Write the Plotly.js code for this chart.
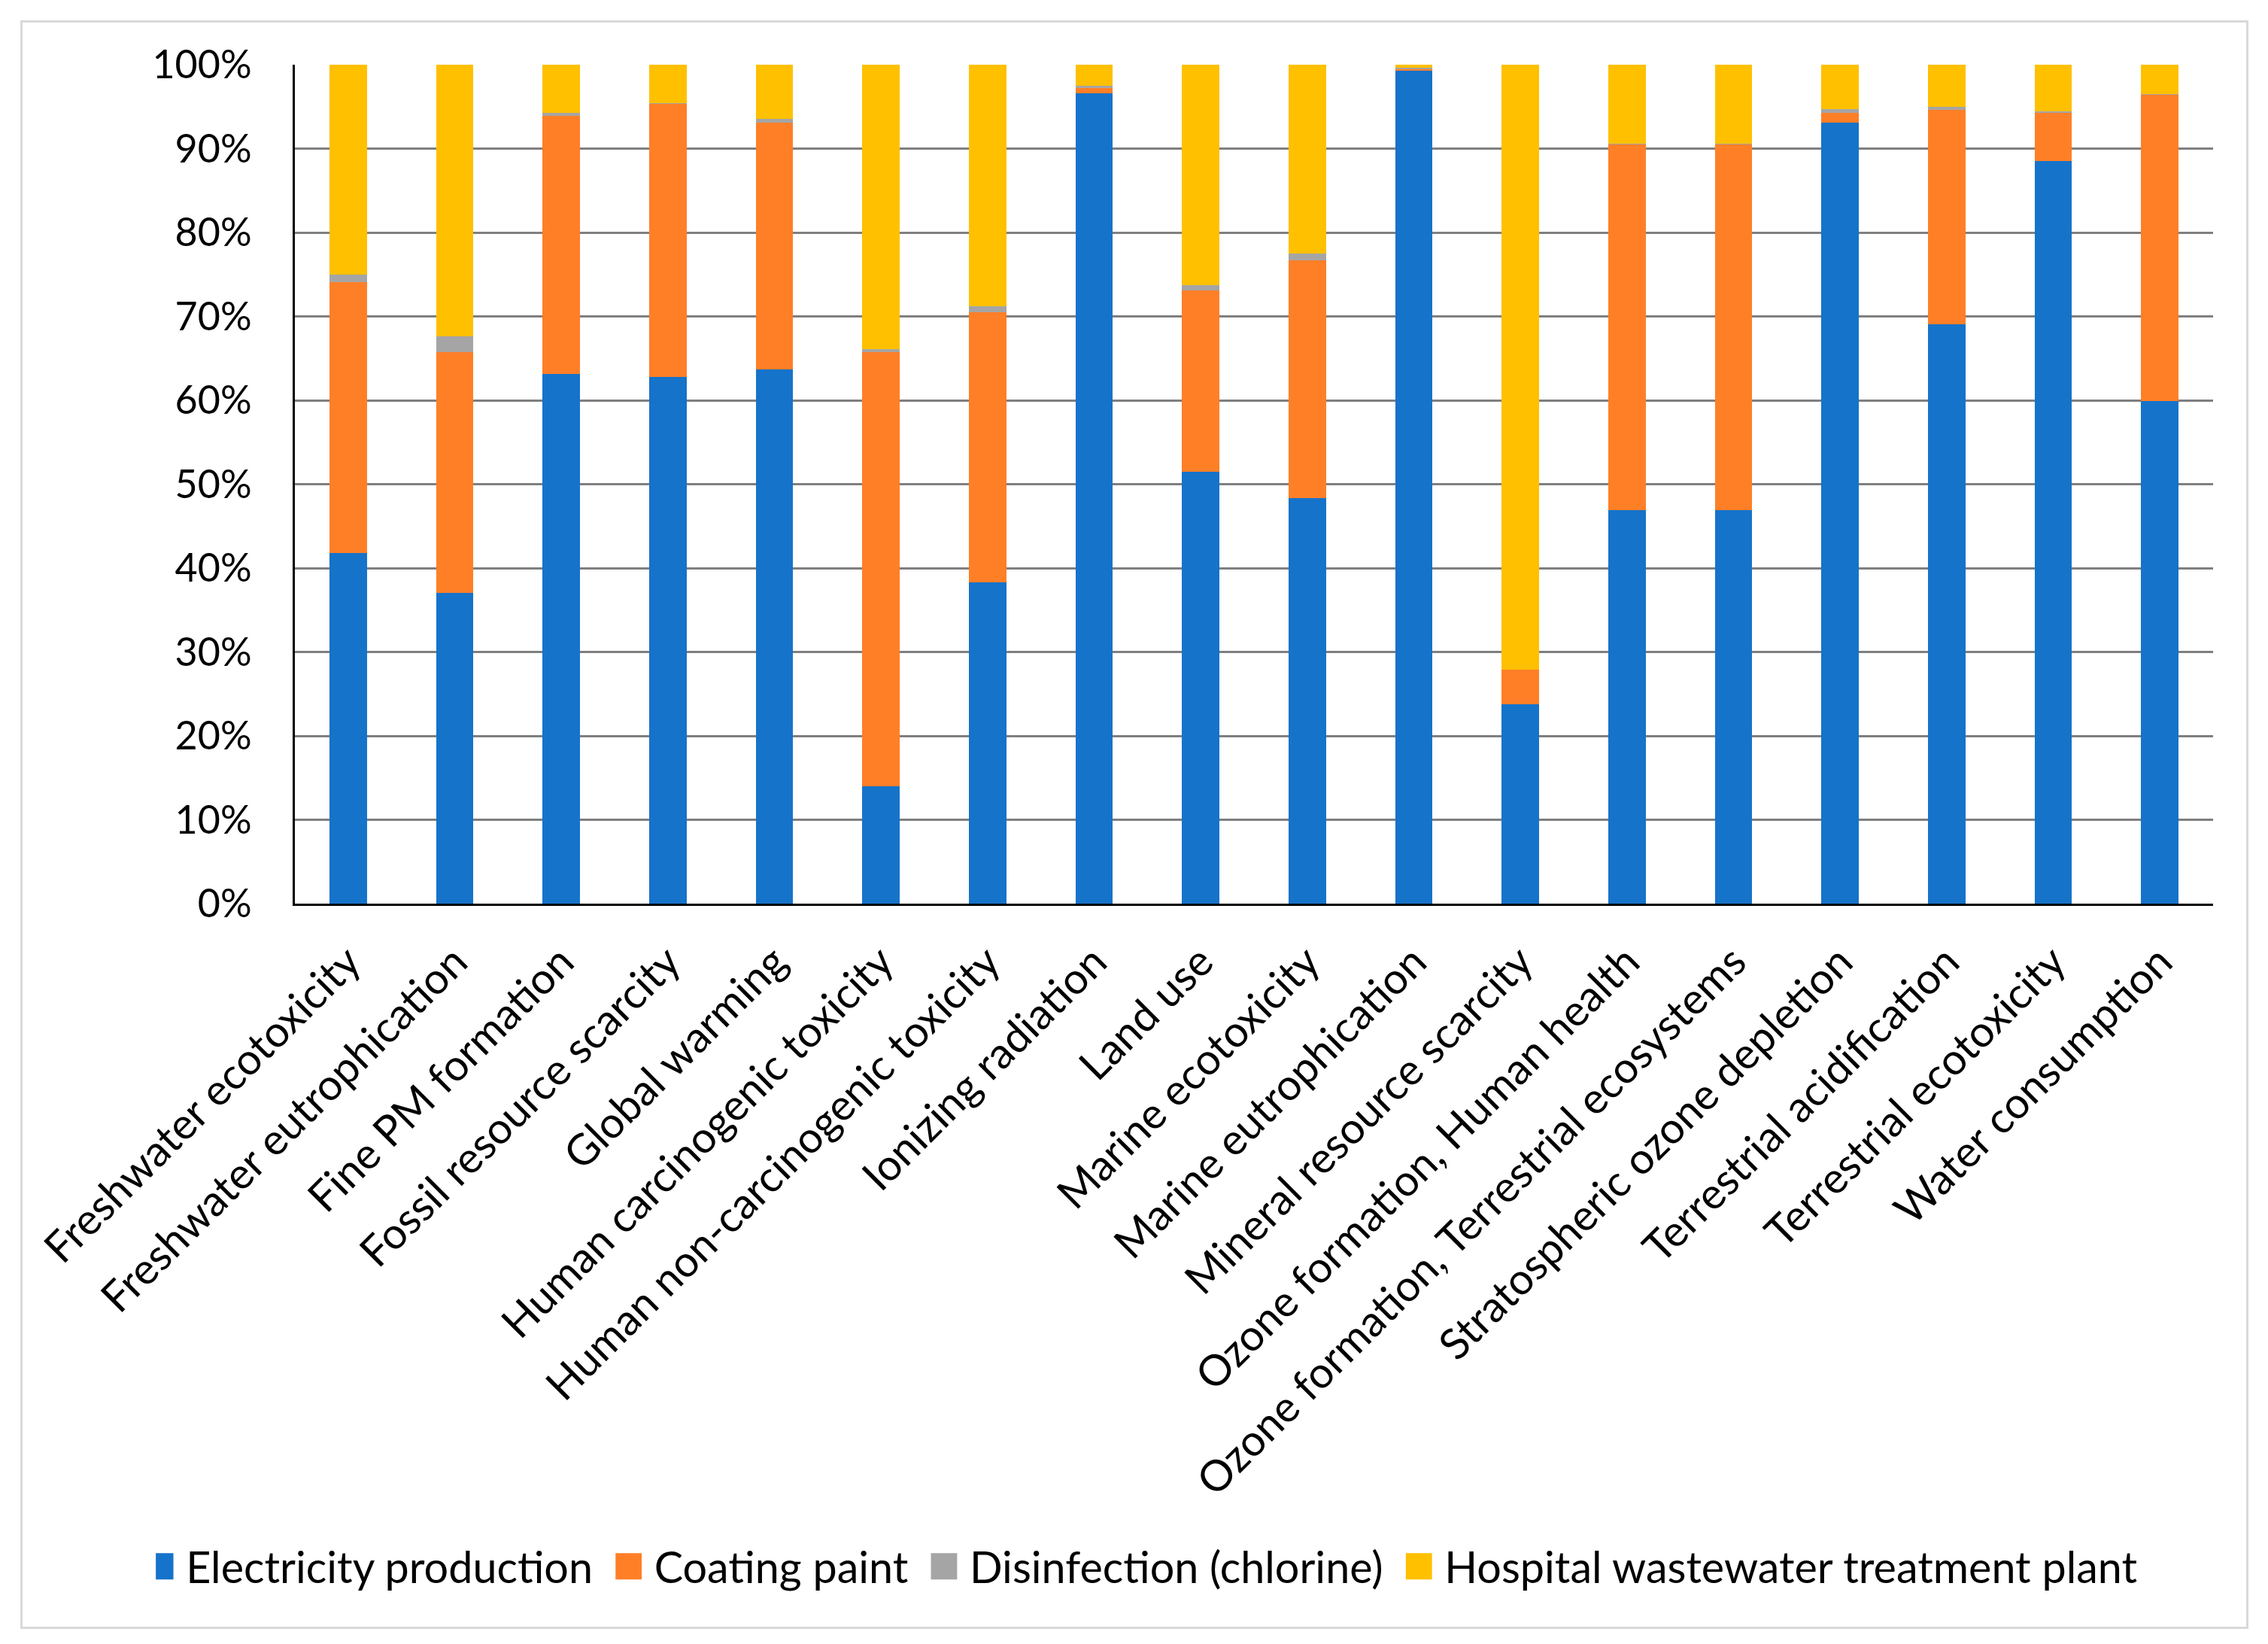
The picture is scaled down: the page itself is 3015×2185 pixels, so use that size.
<!DOCTYPE html>
<html>
<head>
<meta charset="utf-8">
<script src="https://cdn.plot.ly/plotly-3.0.1.min.js"></script>
<style>
  html, body { margin: 0; padding: 0; background: #ffffff; }
  #chart { position: absolute; left: 0; top: 0; width: 3015px; height: 2185px; }
  #frame { position: absolute; left: 27px; top: 27px; width: 2956px; height: 2132px;
           border: 3px solid #d9d9d9; pointer-events: none; }
</style>
</head>
<body>
<div id="chart"></div>
<div id="frame"></div>
<script>
const categories = [
  "Freshwater ecotoxicity",
  "Freshwater eutrophication",
  "Fine PM formation",
  "Fossil resource scarcity",
  "Global warming",
  "Human carcinogenic toxicity",
  "Human non-carcinogenic toxicity",
  "Ionizing radiation",
  "Land use",
  "Marine ecotoxicity",
  "Marine eutrophication",
  "Mineral resource scarcity",
  "Ozone formation, Human health",
  "Ozone formation, Terrestrial ecosystems",
  "Stratospheric ozone depletion",
  "Terrestrial acidification",
  "Terrestrial ecotoxicity",
  "Water consumption"
];

const electricity  = [41.8, 37.0, 63.1, 62.8, 63.7, 14.0, 38.3, 96.6, 51.5, 48.3, 99.3, 23.8, 46.9, 46.9, 93.1, 69.1, 88.5, 59.9];
const coating      = [32.3, 28.7, 30.8, 32.5, 29.4, 51.7, 32.2,  0.6, 21.6, 28.4,  0.2,  4.1, 43.6, 43.6,  1.2, 25.5,  5.8, 36.5];
const disinfection = [ 0.9,  1.9,  0.4,  0.1,  0.4,  0.4,  0.7,  0.3,  0.6,  0.8,  0.1,  0.0,  0.1,  0.1,  0.4,  0.4,  0.1,  0.1];
const hospital     = [25.0, 32.4,  5.7,  4.6,  6.5, 33.9, 28.8,  2.5, 26.3, 22.5,  0.4, 72.1,  9.4,  9.4,  5.3,  5.0,  5.6,  3.5];

const seriesNames = ["Electricity production", "Coating paint", "Disinfection (chlorine)", "Hospital wastewater treatment plant"];
const seriesColors = ["#1673CA", "#FF7F27", "#A5A5A5", "#FFC000"];
const seriesValues = [electricity, coating, disinfection, hospital];

const traces = seriesValues.map((vals, i) => ({
  type: "bar",
  // trailing non-breaking spaces give the legend entries the same spacing as the reference key
  name: seriesNames[i] + (i < seriesValues.length - 1 ? "\u00A0\u00A0\u2009" : ""),
  x: categories,
  y: vals,
  marker: { color: seriesColors[i], line: { width: 0 } },
  hoverinfo: "x+y+name"
}));

const layout = {
  width: 3015,
  height: 2185,
  paper_bgcolor: "#ffffff",
  plot_bgcolor: "#ffffff",
  barmode: "stack",
  bargap: 0.65,
  margin: { l: 392, r: 73, t: 86, b: 984, pad: 0 },
  font: { family: "Lato, 'Liberation Sans', sans-serif", size: 52, color: "#000000" },
  showlegend: true,
  legend: {
    orientation: "h",
    x: -0.0725,
    xanchor: "left",
    y: -0.79,
    yanchor: "middle",
    traceorder: "normal",
    font: { family: "Lato, sans-serif", size: 57.5, color: "#000000" },
    itemwidth: 30,
    bgcolor: "rgba(0,0,0,0)"
  },
  xaxis: {
    type: "category",
    tickangle: -45,
    tickfont: { family: "Lato, sans-serif", size: 57, color: "#000000" },
    showgrid: false,
    showline: true,
    linecolor: "#000000",
    linewidth: 3,
    ticks: "",
    ticklabelstandoff: 18,
    automargin: false
  },
  yaxis: {
    range: [0, 100],
    dtick: 10,
    tick0: 0,
    ticksuffix: "%",
    tickfont: { family: "Lato, sans-serif", size: 52, color: "#000000" },
    showgrid: true,
    gridcolor: "#7f7f7f",
    gridwidth: 3,
    zeroline: false,
    showline: true,
    linecolor: "#000000",
    linewidth: 3,
    ticks: "",
    ticklabelstandoff: 44,
    automargin: false
  }
};

Plotly.newPlot("chart", traces, layout, { displayModeBar: false, staticPlot: true }).then(function (gd) {
  // enlarge the legend colour squares to match the reference key size
  gd.querySelectorAll(".legend .legendpoints path").forEach(function (p) {
    p.setAttribute("transform", "translate(6,0) scale(2.9)");
  });
});
</script>
</body>
</html>
